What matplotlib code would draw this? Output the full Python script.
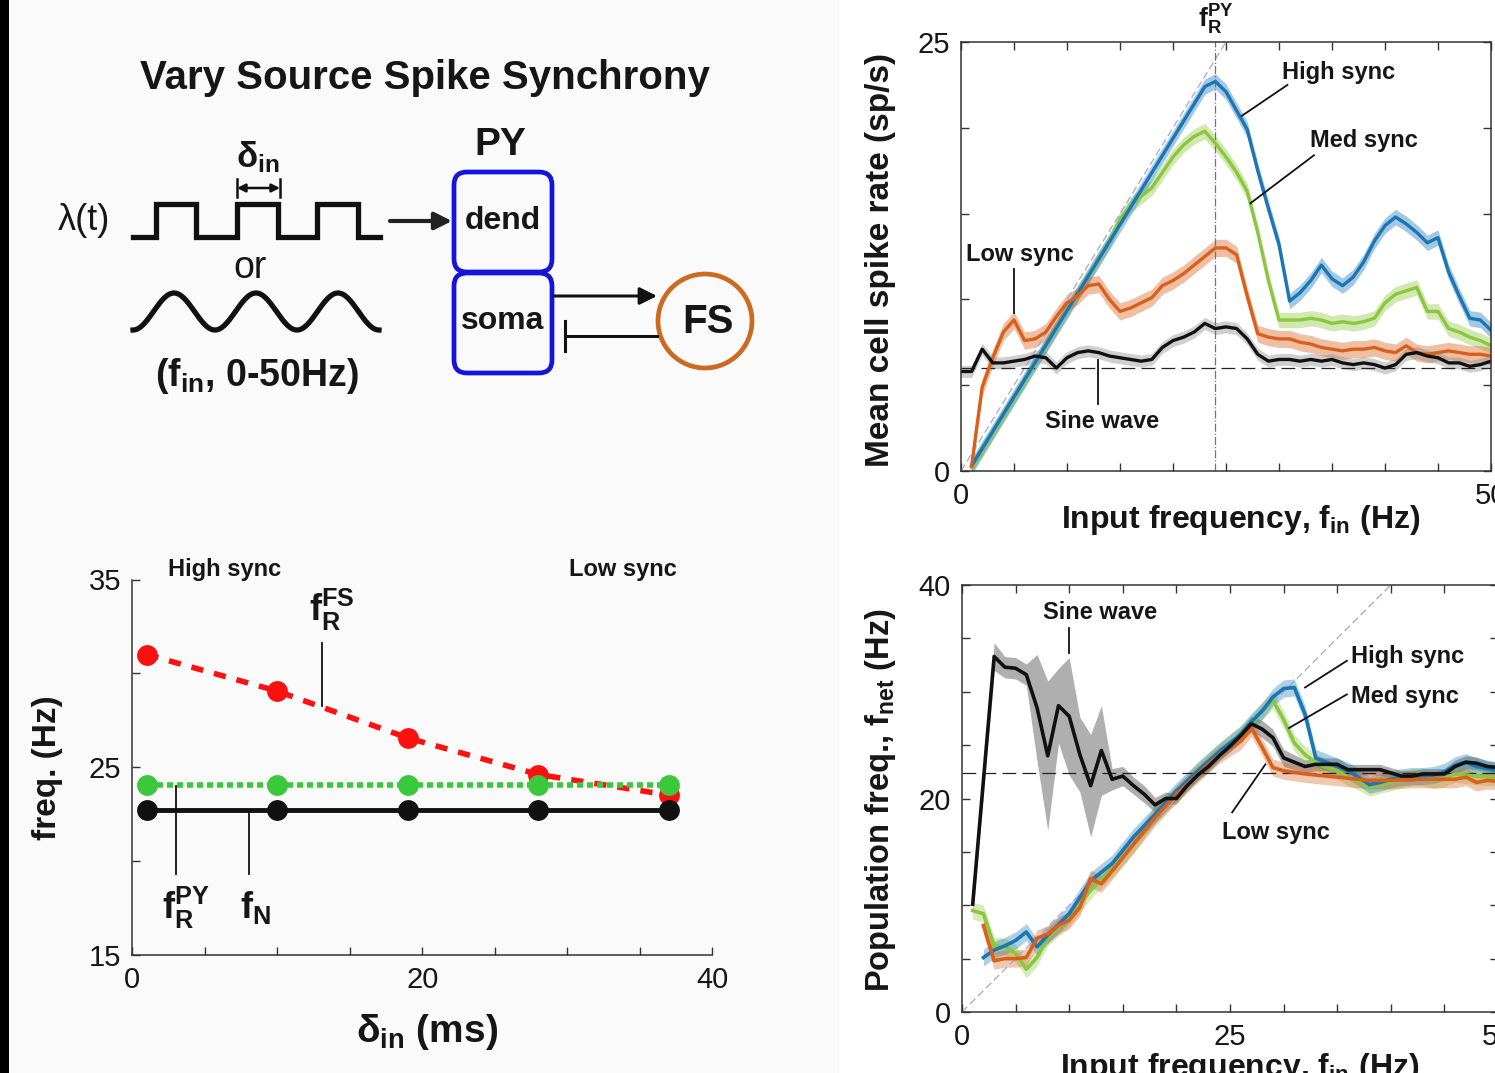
import numpy as np
import matplotlib
matplotlib.use('Agg')
import matplotlib.pyplot as plt
from matplotlib import font_manager
from matplotlib.patches import FancyBboxPatch, Circle, Rectangle

# ---------------- data ----------------
# bottom-left: resonance / network frequencies vs input spike dispersion
delta_in = [1, 10, 19, 28, 37]
fr_fs = [31.0, 29.05, 26.55, 24.6, 23.5]
fr_py = [24.05, 24.05, 24.05, 24.05, 24.05]
f_n = [22.7, 22.7, 22.7, 22.7, 22.7]

# top-right: mean cell spike rate vs input frequency
rate_high_x = [1, 23, 24, 25, 26, 27, 28, 29, 30, 31, 32, 33, 34, 35, 36, 37, 38, 39, 40,
               41, 42, 43, 44, 45, 46, 47, 48, 49, 50]
rate_high = [0.3, 22.4, 22.7, 22.1, 21.0, 19.9, 17.5, 15.3, 13.2, 9.9, 10.4, 11.1, 12.0, 11.2,
             10.8, 11.3, 12.2, 13.4, 14.3, 14.8, 14.4, 13.9, 13.3, 13.6, 11.6, 10.2, 8.9, 8.8, 8.2]
rate_med_x = [1, 14, 15, 16, 17, 18, 19, 20, 21, 22, 23, 24, 25, 26, 27, 28, 29, 30, 31, 32,
              33, 34, 35, 36, 37, 38, 39, 40, 41, 42, 43, 44, 45, 46, 47, 48, 49, 50]
rate_med = [0.2, 13.4, 14.7, 15.5, 16.0, 16.5, 17.4, 18.3, 19.0, 19.5, 19.8, 19.1, 18.3, 17.4,
            16.3, 13.9, 11.1, 8.8, 8.8, 8.8, 8.9, 8.8, 8.6, 8.7, 8.6, 8.7, 8.9, 9.8, 10.3, 10.5,
            10.7, 9.3, 9.3, 8.3, 8.1, 7.8, 7.6, 7.3]
rate_low_x = list(range(1, 51))
rate_low = [0.3, 4.9, 6.6, 8.1, 8.8, 7.6, 7.7, 8.1, 9.0, 9.8, 10.2, 10.8, 10.9, 10.0, 9.3, 9.5,
            9.8, 10.1, 10.8, 11.1, 11.5, 12.0, 12.5, 13.0, 13.0, 12.6, 10.2, 8.0, 7.8, 7.7, 7.7,
            7.5, 7.4, 7.2, 7.1, 7.0, 7.1, 7.1, 7.2, 7.0, 6.9, 7.3, 6.9, 6.8, 6.9, 7.0, 6.9, 6.8,
            6.8, 6.7]
rate_sine_x = list(range(0, 51))
rate_sine = [5.8, 5.8, 7.1, 6.3, 6.3, 6.4, 6.5, 6.7, 6.6, 6.0, 6.6, 6.9, 7.0, 6.9, 6.7, 6.6,
             6.5, 6.4, 6.5, 7.2, 7.6, 7.8, 8.1, 8.6, 8.3, 8.4, 8.3, 7.7, 6.8, 6.4, 6.5, 6.5, 6.4,
             6.5, 6.4, 6.5, 6.3, 6.2, 6.3, 6.2, 6.0, 6.2, 6.8, 6.9, 6.7, 6.6, 6.3, 6.3, 6.1, 6.2,
             6.4]
rate_noise = 6.0
fr_py_freq = 24

# bottom-right: population frequency vs input frequency
pop_sine_x = [1, 3, 4, 5, 6, 7, 8, 9, 10, 11, 12, 13, 14, 15, 16, 17, 18, 19, 20, 21, 22, 23,
              24, 25, 26, 27, 28, 29, 30, 31, 32, 33, 34, 35, 36, 37, 38, 39, 40, 41, 42, 43,
              44, 45, 46, 47, 48, 49, 50]
pop_sine = [10.1, 33.3, 32.3, 32.2, 31.6, 28.5, 24.0, 28.7, 27.7, 24.1, 21.2, 24.5, 21.8, 22.1,
            21.2, 20.4, 19.4, 20.0, 20.0, 21.2, 22.2, 23.0, 24.0, 24.9, 25.9, 27.0, 26.5, 25.7,
            23.8, 23.4, 23.0, 23.2, 23.2, 23.2, 22.7, 22.7, 22.7, 22.7, 22.4, 22.1, 22.1, 22.3,
            22.3, 22.3, 23.0, 23.4, 23.3, 23.0, 22.9]
pop_sine_err = [1.0, 1.3, 1.0, 1.0, 1.0, 5.0, 7.0, 3.5, 5.5, 3.5, 4.8, 4.2, 1.0, 0.9, 0.8, 0.8,
                0.7, 0.6, 0.5, 0.5, 0.5, 0.5, 0.5, 0.5, 0.6, 0.7, 0.8, 0.8, 0.8, 0.7, 0.6, 0.6,
                0.6, 0.6, 0.5, 0.5, 0.5, 0.5, 0.5, 0.5, 0.5, 0.5, 0.5, 0.5, 0.6, 0.6, 0.6, 0.5,
                0.5]
pop_med_x = [1, 2, 3, 4, 5, 6, 7, 8, 10, 12, 14, 16, 18, 20, 22, 24, 26, 27, 28, 29, 30, 31, 32,
             33, 34, 35, 36, 37, 38, 39, 40, 41, 42, 43, 44, 45, 46, 47, 48, 49, 50]
pop_med = [9.5, 9.2, 6.2, 6.1, 5.5, 4.0, 5.1, 7.0, 8.8, 11.4, 13.4, 15.7, 18.5, 20.4, 22.6, 24.4,
           26.0, 27.0, 28.2, 29.2, 27.4, 25.2, 24.1, 23.4, 22.9, 22.6, 22.0, 21.6, 21.0, 21.3,
           21.5, 21.8, 22.0, 22.0, 21.7, 21.9, 22.3, 22.2, 22.1, 22.0, 22.0]
pop_high_x = [2, 3, 4, 5, 6, 7, 8, 10, 12, 14, 16, 18, 20, 22, 24, 26, 27, 28, 29, 30, 31, 32,
              33, 34, 35, 36, 37, 38, 39, 40, 41, 42, 43, 44, 45, 46, 47, 48, 49, 50]
pop_high = [5.1, 5.8, 6.2, 6.7, 7.5, 6.1, 7.2, 9.2, 12.3, 13.9, 16.4, 18.5, 20.7, 22.6, 24.4,
            26.0, 27.2, 28.2, 29.5, 30.3, 30.4, 27.9, 23.8, 23.4, 23.0, 22.6, 22.0, 21.3, 21.5,
            21.8, 22.0, 22.1, 22.1, 22.2, 22.5, 23.1, 23.4, 23.0, 22.8, 22.6]
pop_low_x = [2, 3, 4, 5, 6, 7, 8, 9, 10, 11, 12, 13, 14, 16, 18, 20, 22, 24, 26, 27, 28, 29, 30,
             32, 34, 36, 38, 40, 42, 44, 46, 47, 48, 49, 50]
pop_low = [8.1, 4.8, 5.0, 5.0, 5.1, 6.9, 7.3, 8.1, 8.6, 9.8, 12.5, 12.0, 13.2, 15.7, 18.2, 20.4,
           22.3, 24.1, 25.4, 26.6, 24.8, 22.9, 22.6, 22.3, 22.1, 21.9, 21.7, 21.7, 21.8, 21.8,
           21.8, 22.0, 21.5, 21.7, 21.6]
pop_noise = 22.4

# ---------------- style ----------------
names = {f.name for f in font_manager.fontManager.ttflist}
FONT = 'Liberation Sans' if 'Liberation Sans' in names else 'DejaVu Sans'
plt.rcParams['font.family'] = [FONT, 'DejaVu Sans']
plt.rcParams['mathtext.fontset'] = 'custom'
plt.rcParams['mathtext.rm'] = FONT
plt.rcParams['mathtext.bf'] = FONT + ':bold'
plt.rcParams['mathtext.it'] = FONT + ':italic'

C_HIGH = '#1b76b5'
C_MED = '#8cc63e'
C_LOW = '#d9601c'
C_SINE = '#111111'
TXT = '#161616'
W, H = 1495, 1073

fig = plt.figure(figsize=(W / 100, H / 100), dpi=100)
fig.patch.set_facecolor('white')


def px_axes(l, t, r, b):
    return fig.add_axes([l / W, 1 - b / H, (r - l) / W, (b - t) / H])


def style_axes(ax, box=True):
    for s in ax.spines.values():
        s.set_color('#333333')
        s.set_linewidth(1.1)
    if not box:
        ax.spines['top'].set_visible(False)
        ax.spines['right'].set_visible(False)
    ax.tick_params(direction='in', length=6, width=1, colors='#333333',
                   labelsize=21, labelcolor=TXT, top=box, right=box, pad=8)


# ---------------- schematic (pixel coords) ----------------
dia = fig.add_axes([0, 0, 1, 1])
dia.set_xlim(0, W)
dia.set_ylim(H, 0)
dia.axis('off')
dia.add_patch(Rectangle((9, 0), 830, H, color='#fafafa', lw=0))
dia.add_patch(Rectangle((0, 0), 9, H, color='black', lw=0))

dia.text(425, 78, 'Vary Source Spike Synchrony', ha='center', va='center',
         fontsize=29, fontweight='bold', color=TXT)
dia.text(84, 220, 'λ(t)', ha='center', va='center', fontsize=26, color=TXT)
sq_x = [133, 156, 156, 196, 196, 237, 237, 278, 278, 317, 317, 358, 358, 380]
sq_y = [237, 237, 204, 204, 237, 237, 204, 204, 237, 237, 204, 204, 237, 237]
dia.plot(sq_x, sq_y, color='#111111', lw=3.8, solid_joinstyle='miter')
dia.annotate('', xy=(237, 188), xytext=(280, 188),
             arrowprops=dict(arrowstyle='<|-|>', lw=1.8, color='#111111', mutation_scale=12,
                             shrinkA=0, shrinkB=0))
dia.plot([237, 237], [179, 197], color='#111111', lw=1.8)
dia.plot([280, 280], [179, 197], color='#111111', lw=1.8)
dia.text(258, 157, r'δ$_{\mathbf{in}}$', ha='center', va='center', fontsize=25,
         fontweight='bold', color=TXT)
dia.text(250, 268, 'or', ha='center', va='center', fontsize=27, color=TXT)
sx = np.linspace(133, 379, 200)
dia.plot(sx, 311.5 + 18.5 * np.cos(2 * np.pi * (sx - 133) / 82), color='#111111', lw=3.8)
dia.text(257, 376, r'(f$_{\mathbf{in}}$, 0-50Hz)', ha='center', va='center', fontsize=27,
         fontweight='bold', color=TXT)

dia.annotate('', xy=(452, 221), xytext=(390, 221),
             arrowprops=dict(arrowstyle='-|>', lw=3, color='#222222', mutation_scale=26,
                             shrinkA=0, shrinkB=0))
dia.text(500, 145, 'PY', ha='center', va='center', fontsize=28, fontweight='bold', color=TXT)
for top in (172, 273):
    dia.add_patch(FancyBboxPatch((454, top), 98, 100, boxstyle='round,pad=0,rounding_size=13',
                                 ec='#1414dc', fc='none', lw=3.4))
dia.text(503, 221, 'dend', ha='center', va='center', fontsize=23, fontweight='bold', color=TXT)
dia.text(503, 321, 'soma', ha='center', va='center', fontsize=23, fontweight='bold', color=TXT)
dia.annotate('', xy=(657, 296), xytext=(554, 296),
             arrowprops=dict(arrowstyle='-|>', lw=2.2, color='#111111', mutation_scale=26,
                             shrinkA=0, shrinkB=0))
dia.plot([565, 657], [336, 336], color='#111111', lw=2.2)
dia.plot([565, 565], [321, 351], color='#111111', lw=2.2)
dia.add_patch(Circle((705, 321), 47, ec='#cc6a22', fc='none', lw=3.4))
dia.text(708, 322, 'FS', ha='center', va='center', fontsize=29, fontweight='bold', color=TXT)

# ---------------- top-right: spike rate ----------------
ax1 = px_axes(961, 42, 1491, 471)
ax1.set_facecolor('white')
style_axes(ax1)
ax1.plot([0, 25], [0, 25], color='#a5a5dc', lw=0.9, ls=(0, (6, 3)))
ax1.axvline(fr_py_freq, color='#6f6f9a', lw=0.9, ls='-.')
ax1.axhline(rate_noise, color='#222222', lw=0.9, ls=(0, (11, 5)))
series1 = [(rate_med_x, rate_med, C_MED, 0.45), (rate_high_x, rate_high, C_HIGH, 0.45),
           (rate_low_x, rate_low, C_LOW, 0.5), (rate_sine_x, rate_sine, C_SINE, 0.35)]
for x, y, c, e in series1:
    y = np.asarray(y)
    band_c = '#888888' if c == C_SINE else c
    ax1.fill_between(x, y - e, y + e, color=band_c, alpha=0.4, lw=0)
    ax1.plot(x, y, color=c, lw=2.4)
ax1.set_xlim(0, 50)
ax1.set_ylim(0, 25)
ax1.set_xticks(np.arange(0, 51, 5))
ax1.set_xticklabels(['0'] + [''] * 9 + ['50'])
ax1.set_yticks(np.arange(0, 26, 5))
ax1.set_yticklabels(['0', '', '', '', '', '25'])
ax1.text(fr_py_freq, 25.3, r'$\mathbf{f}_{\mathbf{R}}^{\mathbf{PY}}$', ha='center', va='bottom',
         fontsize=19, color=TXT, clip_on=False)
ann = dict(fontsize=17, fontweight='bold', color=TXT, ha='center', va='center')
ax1.text(35.6, 23.2, 'High sync', **ann)
ax1.plot([30.8, 26.5], [22.5, 20.7], color='#111111', lw=1.3)
ax1.text(38.0, 19.25, 'Med sync', **ann)
ax1.plot([33.3, 27.3], [18.4, 15.6], color='#111111', lw=1.3)
ax1.text(5.6, 12.6, 'Low sync', **ann)
ax1.plot([5.0, 5.0], [11.8, 9.2], color='#111111', lw=1.3)
ax1.text(13.3, 2.9, 'Sine wave', **ann)
ax1.plot([12.9, 12.9], [6.45, 3.9], color='#111111', lw=1.3)
fig.text(880 / W, 1 - 260 / H, 'Mean cell spike rate (sp/s)', rotation=90, ha='center',
         va='center', fontsize=24, fontweight='bold', color=TXT)
fig.text(1241 / W, 1 - 520 / H, r'Input frequency, f$_{\mathbf{in}}$ (Hz)', ha='center',
         va='center', fontsize=23, fontweight='bold', color=TXT)

# ---------------- bottom-right: population frequency ----------------
ax2 = px_axes(962, 585, 1498, 1012)
ax2.set_facecolor('white')
style_axes(ax2)
ax2.plot([0, 40], [0, 40], color='#a5a5dc', lw=0.9, ls=(0, (6, 3)))
ax2.axhline(pop_noise, color='#222222', lw=0.9, ls=(0, (11, 5)))
ps = np.asarray(pop_sine)
pe = np.asarray(pop_sine_err)
ax2.fill_between(pop_sine_x, ps - pe, ps + pe, color='#7a7a7a', alpha=0.6, lw=0)
series2 = [(pop_med_x, pop_med, C_MED, 0.8), (pop_high_x, pop_high, C_HIGH, 0.8),
           (pop_low_x, pop_low, C_LOW, 0.8)]
for x, y, c, e in series2:
    y = np.asarray(y)
    ax2.fill_between(x, y - e, y + e, color=c, alpha=0.35, lw=0)
for x, y, c, e in series2:
    ax2.plot(x, y, color=c, lw=2.6)
ax2.plot(pop_sine_x, pop_sine, color=C_SINE, lw=2.6)
ax2.set_xlim(0, 50)
ax2.set_ylim(0, 40)
ax2.set_xticks(np.arange(0, 51, 5))
ax2.set_xticklabels(['0'] + [''] * 4 + ['25'] + [''] * 4 + ['50'])
ax2.set_yticks(np.arange(0, 41, 5))
ax2.set_yticklabels(['0', '', '', '', '20', '', '', '', '40'])
ax2.text(12.9, 37.4, 'Sine wave', **ann)
ax2.plot([10.0, 10.0], [36.0, 33.6], color='#111111', lw=1.3)
ax2.text(36.3, 33.3, 'High sync', fontsize=17, fontweight='bold', color=TXT, ha='left',
         va='center')
ax2.plot([35.9, 32.0], [32.9, 30.4], color='#111111', lw=1.3)
ax2.text(36.3, 29.6, 'Med sync', fontsize=17, fontweight='bold', color=TXT, ha='left',
         va='center')
ax2.plot([35.9, 30.5], [29.75, 26.6], color='#111111', lw=1.3)
ax2.text(29.3, 16.8, 'Low sync', **ann)
ax2.plot([25.2, 28.3], [18.7, 23.2], color='#111111', lw=1.3)
fig.text(880 / W, 1 - 800 / H, r'Population freq., f$_{\mathbf{net}}$ (Hz)', rotation=90,
         ha='center', va='center', fontsize=23.5, fontweight='bold', color=TXT)
fig.text(1240 / W, 1 - 1068 / H, r'Input frequency, f$_{\mathbf{in}}$ (Hz)', ha='center',
         va='center', fontsize=23, fontweight='bold', color=TXT)

# ---------------- bottom-left: frequencies vs delta_in ----------------
ax3 = px_axes(132, 579.5, 712.5, 954.5)
ax3.set_facecolor('none')
style_axes(ax3, box=False)
ax3.plot(delta_in, fr_fs, color='#ff1010', lw=4, ls=(0, (2.2, 2.0)), marker='o', ms=15,
         mec='none', clip_on=False, zorder=3)
ax3.plot(delta_in, fr_py, color='#3cc83c', lw=4, ls=(0, (1.1, 0.7)), marker='o', ms=15,
         mec='none', clip_on=False, zorder=4)
ax3.plot(delta_in, f_n, color='#111111', lw=3.5, marker='o', ms=15, mec='none',
         clip_on=False, zorder=5)
ax3.set_xlim(0, 40)
ax3.set_ylim(15, 35)
ax3.set_xticks(np.arange(0, 41, 5))
ax3.set_xticklabels(['0', '', '', '', '20', '', '', '', '40'])
ax3.set_yticks(np.arange(15, 36, 5))
ax3.set_yticklabels(['15', '', '25', '', '35'])
ax3.text(6.4, 35.55, 'High sync', clip_on=False, **ann)
ax3.text(33.8, 35.55, 'Low sync', clip_on=False, **ann)
ax3.text(13.8, 33.4, r'$\mathbf{f}_{\mathbf{R}}^{\mathbf{FS}}$', ha='center', va='center',
         fontsize=26, color=TXT)
ax3.plot([13.1, 13.1], [31.6, 28.25], color='#111111', lw=1.3)
ax3.text(3.7, 17.5, r'$\mathbf{f}_{\mathbf{R}}^{\mathbf{PY}}$', ha='center', va='center',
         fontsize=26, color=TXT)
ax3.plot([3.0, 3.0], [24.0, 19.3], color='#111111', lw=1.3)
ax3.text(8.5, 17.5, r'$\mathbf{f}_{\mathbf{N}}$', ha='center', va='center', fontsize=26,
         color=TXT)
ax3.plot([8.05, 8.05], [22.7, 19.3], color='#111111', lw=1.3)
fig.text(48 / W, 1 - 768 / H, 'freq. (Hz)', rotation=90, ha='center', va='center',
         fontsize=24, fontweight='bold', color=TXT)
fig.text(427 / W, 1 - 1032 / H, r'δ$_{\mathbf{in}}$ (ms)', ha='center', va='center',
         fontsize=28, fontweight='bold', color=TXT)

fig.savefig('out.png', dpi=100, facecolor=fig.get_facecolor())
